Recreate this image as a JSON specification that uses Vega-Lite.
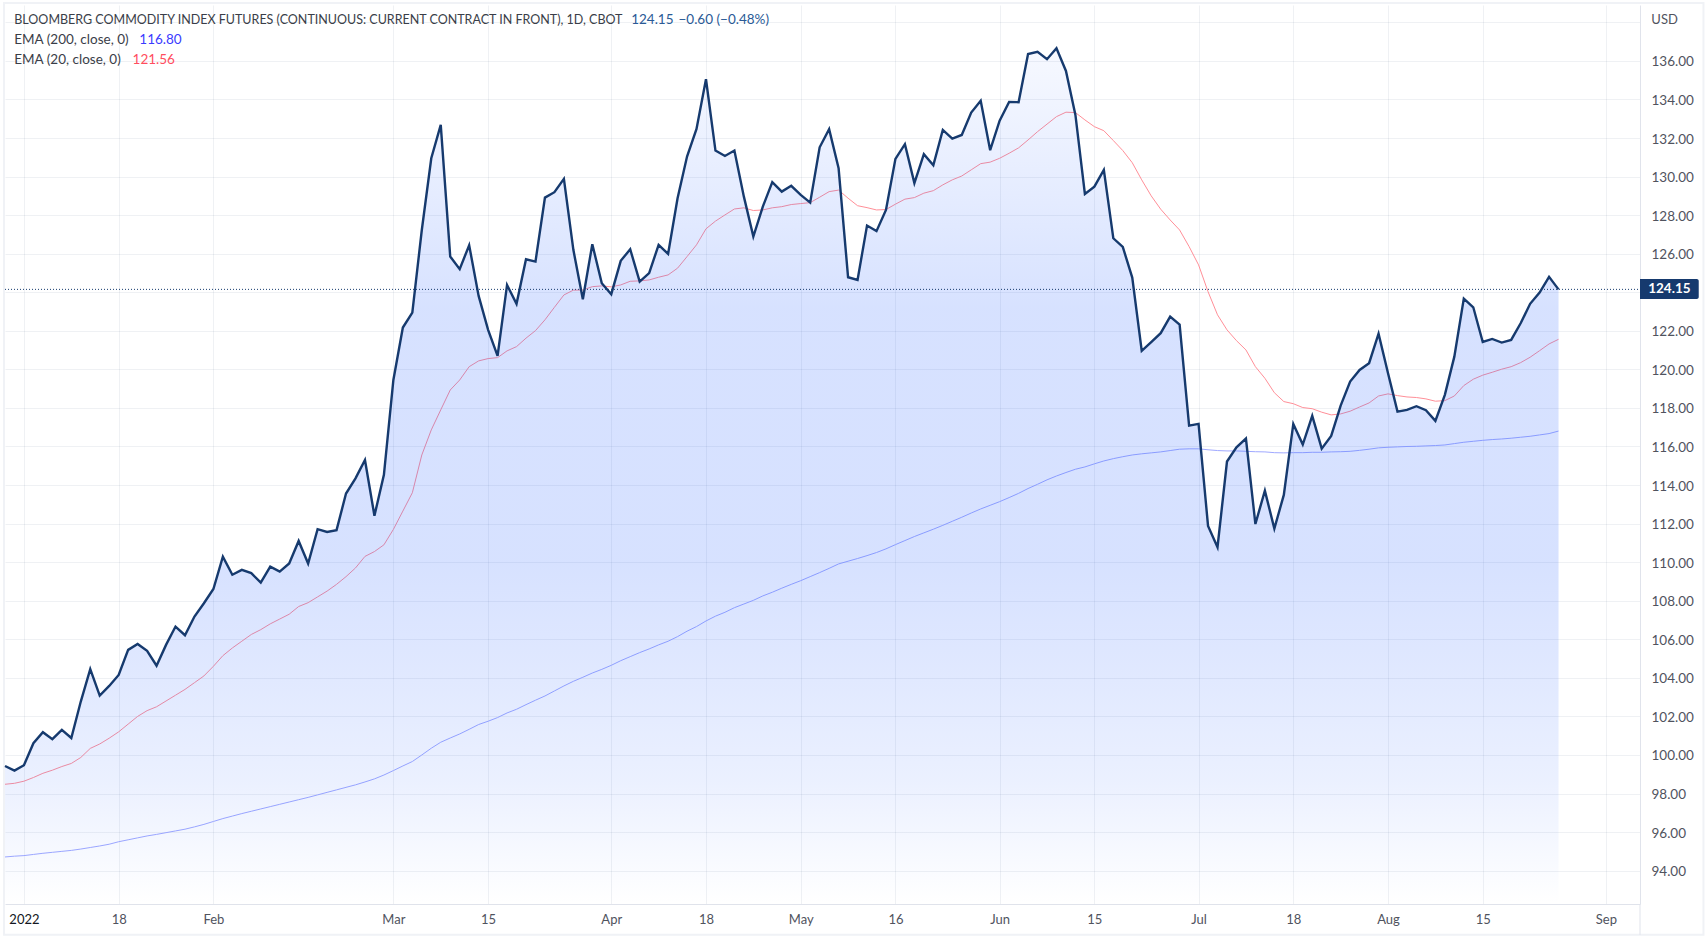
{
  "$schema": "https://vega.github.io/schema/vega-lite/v6.json",
  "width": 1635,
  "height": 899,
  "autosize": {"type": "none"},
  "padding": {"left": 5, "top": 5, "right": 68, "bottom": 38},
  "background": "#ffffff",
  "config": {
    "view": {"stroke": null},
    "text": {"font": "Lato", "fontSize": 13.5}
  },
  "datasets": {
    "bars": [
      {"bar":-2,"date":"2021-12-30","close":99.43,"ema20":98.48,"ema200":94.71},
      {"bar":-1,"date":"2021-12-31","close":99.19,"ema20":98.53,"ema200":94.75},
      {"bar":0,"date":"2022-01-03","close":99.47,"ema20":98.64,"ema200":94.78},
      {"bar":1,"date":"2022-01-04","close":100.61,"ema20":98.83,"ema200":94.84},
      {"bar":2,"date":"2022-01-05","close":101.18,"ema20":99.05,"ema200":94.9},
      {"bar":3,"date":"2022-01-06","close":100.82,"ema20":99.21,"ema200":94.95},
      {"bar":4,"date":"2022-01-07","close":101.3,"ema20":99.4,"ema200":95.0},
      {"bar":5,"date":"2022-01-10","close":100.88,"ema20":99.56,"ema200":95.05},
      {"bar":6,"date":"2022-01-11","close":102.77,"ema20":99.87,"ema200":95.12},
      {"bar":7,"date":"2022-01-12","close":104.45,"ema20":100.34,"ema200":95.2},
      {"bar":8,"date":"2022-01-13","close":103.08,"ema20":100.57,"ema200":95.28},
      {"bar":9,"date":"2022-01-14","close":103.58,"ema20":100.87,"ema200":95.37},
      {"bar":10,"date":"2022-01-18","close":104.15,"ema20":101.2,"ema200":95.5},
      {"bar":11,"date":"2022-01-19","close":105.45,"ema20":101.6,"ema200":95.6},
      {"bar":12,"date":"2022-01-20","close":105.76,"ema20":102.0,"ema200":95.7},
      {"bar":13,"date":"2022-01-21","close":105.4,"ema20":102.3,"ema200":95.8},
      {"bar":14,"date":"2022-01-24","close":104.63,"ema20":102.5,"ema200":95.88},
      {"bar":15,"date":"2022-01-25","close":105.71,"ema20":102.8,"ema200":95.97},
      {"bar":16,"date":"2022-01-26","close":106.66,"ema20":103.1,"ema200":96.06},
      {"bar":17,"date":"2022-01-27","close":106.21,"ema20":103.4,"ema200":96.15},
      {"bar":18,"date":"2022-01-28","close":107.18,"ema20":103.75,"ema200":96.27},
      {"bar":19,"date":"2022-01-31","close":107.87,"ema20":104.1,"ema200":96.4},
      {"bar":20,"date":"2022-02-01","close":108.61,"ema20":104.6,"ema200":96.55},
      {"bar":21,"date":"2022-02-02","close":110.29,"ema20":105.15,"ema200":96.7},
      {"bar":22,"date":"2022-02-03","close":109.35,"ema20":105.55,"ema200":96.83},
      {"bar":23,"date":"2022-02-04","close":109.6,"ema20":105.9,"ema200":96.96},
      {"bar":24,"date":"2022-02-07","close":109.43,"ema20":106.25,"ema200":97.08},
      {"bar":25,"date":"2022-02-08","close":108.94,"ema20":106.5,"ema200":97.2},
      {"bar":26,"date":"2022-02-09","close":109.77,"ema20":106.8,"ema200":97.32},
      {"bar":27,"date":"2022-02-10","close":109.51,"ema20":107.05,"ema200":97.44},
      {"bar":28,"date":"2022-02-11","close":109.93,"ema20":107.3,"ema200":97.56},
      {"bar":29,"date":"2022-02-14","close":111.1,"ema20":107.7,"ema200":97.68},
      {"bar":30,"date":"2022-02-15","close":109.93,"ema20":107.9,"ema200":97.8},
      {"bar":31,"date":"2022-02-16","close":111.71,"ema20":108.2,"ema200":97.93},
      {"bar":32,"date":"2022-02-17","close":111.57,"ema20":108.5,"ema200":98.06},
      {"bar":33,"date":"2022-02-18","close":111.66,"ema20":108.85,"ema200":98.19},
      {"bar":34,"date":"2022-02-22","close":113.56,"ema20":109.25,"ema200":98.32},
      {"bar":35,"date":"2022-02-23","close":114.35,"ema20":109.7,"ema200":98.45},
      {"bar":36,"date":"2022-02-24","close":115.3,"ema20":110.3,"ema200":98.6},
      {"bar":37,"date":"2022-02-25","close":112.41,"ema20":110.55,"ema200":98.76},
      {"bar":38,"date":"2022-02-28","close":114.53,"ema20":110.9,"ema200":98.96},
      {"bar":39,"date":"2022-03-01","close":119.45,"ema20":111.7,"ema200":99.19},
      {"bar":40,"date":"2022-03-02","close":122.17,"ema20":112.65,"ema200":99.43},
      {"bar":41,"date":"2022-03-03","close":122.94,"ema20":113.6,"ema200":99.66},
      {"bar":42,"date":"2022-03-04","close":127.23,"ema20":115.56,"ema200":100.0},
      {"bar":43,"date":"2022-03-07","close":130.95,"ema20":116.86,"ema200":100.35},
      {"bar":44,"date":"2022-03-08","close":132.68,"ema20":117.9,"ema200":100.66},
      {"bar":45,"date":"2022-03-09","close":125.85,"ema20":118.93,"ema200":100.88},
      {"bar":46,"date":"2022-03-10","close":125.2,"ema20":119.45,"ema200":101.09},
      {"bar":47,"date":"2022-03-11","close":126.44,"ema20":120.14,"ema200":101.33},
      {"bar":48,"date":"2022-03-14","close":123.81,"ema20":120.44,"ema200":101.58},
      {"bar":49,"date":"2022-03-15","close":122.05,"ema20":120.56,"ema200":101.75},
      {"bar":50,"date":"2022-03-16","close":120.7,"ema20":120.61,"ema200":101.94},
      {"bar":51,"date":"2022-03-17","close":124.38,"ema20":120.96,"ema200":102.18},
      {"bar":52,"date":"2022-03-18","close":123.4,"ema20":121.18,"ema200":102.37},
      {"bar":53,"date":"2022-03-21","close":125.71,"ema20":121.62,"ema200":102.61},
      {"bar":54,"date":"2022-03-22","close":125.59,"ema20":122.01,"ema200":102.84},
      {"bar":55,"date":"2022-03-23","close":128.91,"ema20":122.57,"ema200":103.06},
      {"bar":56,"date":"2022-03-24","close":129.19,"ema20":123.22,"ema200":103.32},
      {"bar":57,"date":"2022-03-25","close":129.88,"ema20":123.86,"ema200":103.58},
      {"bar":58,"date":"2022-03-28","close":126.2,"ema20":124.11,"ema200":103.82},
      {"bar":59,"date":"2022-03-29","close":123.64,"ema20":124.12,"ema200":104.03},
      {"bar":60,"date":"2022-03-30","close":126.49,"ema20":124.29,"ema200":104.25},
      {"bar":61,"date":"2022-03-31","close":124.47,"ema20":124.33,"ema200":104.44},
      {"bar":62,"date":"2022-04-01","close":123.9,"ema20":124.28,"ema200":104.65},
      {"bar":63,"date":"2022-04-04","close":125.63,"ema20":124.38,"ema200":104.89},
      {"bar":64,"date":"2022-04-05","close":126.23,"ema20":124.57,"ema200":105.1},
      {"bar":65,"date":"2022-04-06","close":124.55,"ema20":124.59,"ema200":105.31},
      {"bar":66,"date":"2022-04-07","close":124.99,"ema20":124.64,"ema200":105.5},
      {"bar":67,"date":"2022-04-08","close":126.46,"ema20":124.78,"ema200":105.71},
      {"bar":68,"date":"2022-04-11","close":125.99,"ema20":124.9,"ema200":105.9},
      {"bar":69,"date":"2022-04-12","close":128.88,"ema20":125.25,"ema200":106.14},
      {"bar":70,"date":"2022-04-13","close":131.04,"ema20":125.85,"ema200":106.42},
      {"bar":71,"date":"2022-04-14","close":132.47,"ema20":126.46,"ema200":106.66},
      {"bar":72,"date":"2022-04-18","close":135.05,"ema20":127.29,"ema200":106.95},
      {"bar":73,"date":"2022-04-19","close":131.35,"ema20":127.69,"ema200":107.2},
      {"bar":74,"date":"2022-04-20","close":131.07,"ema20":128.01,"ema200":107.4},
      {"bar":75,"date":"2022-04-21","close":131.35,"ema20":128.32,"ema200":107.64},
      {"bar":76,"date":"2022-04-22","close":128.96,"ema20":128.38,"ema200":107.83},
      {"bar":77,"date":"2022-04-25","close":126.89,"ema20":128.24,"ema200":108.02},
      {"bar":78,"date":"2022-04-26","close":128.44,"ema20":128.27,"ema200":108.25},
      {"bar":79,"date":"2022-04-27","close":129.71,"ema20":128.38,"ema200":108.44},
      {"bar":80,"date":"2022-04-28","close":129.22,"ema20":128.44,"ema200":108.65},
      {"bar":81,"date":"2022-04-29","close":129.52,"ema20":128.55,"ema200":108.85},
      {"bar":82,"date":"2022-05-02","close":129.05,"ema20":128.6,"ema200":109.04},
      {"bar":83,"date":"2022-05-03","close":128.65,"ema20":128.65,"ema200":109.25},
      {"bar":84,"date":"2022-05-04","close":131.52,"ema20":128.93,"ema200":109.46},
      {"bar":85,"date":"2022-05-05","close":132.46,"ema20":129.22,"ema200":109.68},
      {"bar":86,"date":"2022-05-06","close":130.43,"ema20":129.3,"ema200":109.91},
      {"bar":87,"date":"2022-05-09","close":124.78,"ema20":128.88,"ema200":110.05},
      {"bar":88,"date":"2022-05-10","close":124.64,"ema20":128.49,"ema200":110.19},
      {"bar":89,"date":"2022-05-11","close":127.46,"ema20":128.39,"ema200":110.34},
      {"bar":90,"date":"2022-05-12","close":127.17,"ema20":128.27,"ema200":110.5},
      {"bar":91,"date":"2022-05-13","close":128.27,"ema20":128.29,"ema200":110.69},
      {"bar":92,"date":"2022-05-16","close":130.92,"ema20":128.57,"ema200":110.91},
      {"bar":93,"date":"2022-05-17","close":131.68,"ema20":128.83,"ema200":111.12},
      {"bar":94,"date":"2022-05-18","close":129.66,"ema20":128.91,"ema200":111.33},
      {"bar":95,"date":"2022-05-19","close":131.16,"ema20":129.14,"ema200":111.52},
      {"bar":96,"date":"2022-05-20","close":130.59,"ema20":129.27,"ema200":111.71},
      {"bar":97,"date":"2022-05-23","close":132.42,"ema20":129.57,"ema200":111.91},
      {"bar":98,"date":"2022-05-24","close":131.97,"ema20":129.83,"ema200":112.12},
      {"bar":99,"date":"2022-05-25","close":132.16,"ema20":130.03,"ema200":112.33},
      {"bar":100,"date":"2022-05-26","close":133.32,"ema20":130.35,"ema200":112.55},
      {"bar":101,"date":"2022-05-27","close":133.93,"ema20":130.67,"ema200":112.76},
      {"bar":102,"date":"2022-05-31","close":131.37,"ema20":130.75,"ema200":112.95},
      {"bar":103,"date":"2022-06-01","close":132.9,"ema20":130.95,"ema200":113.14},
      {"bar":104,"date":"2022-06-02","close":133.87,"ema20":131.21,"ema200":113.35},
      {"bar":105,"date":"2022-06-03","close":133.86,"ema20":131.49,"ema200":113.57},
      {"bar":106,"date":"2022-06-06","close":136.36,"ema20":131.9,"ema200":113.82},
      {"bar":107,"date":"2022-06-07","close":136.47,"ema20":132.33,"ema200":114.04},
      {"bar":108,"date":"2022-06-08","close":136.09,"ema20":132.72,"ema200":114.27},
      {"bar":109,"date":"2022-06-09","close":136.66,"ema20":133.11,"ema200":114.47},
      {"bar":110,"date":"2022-06-10","close":135.48,"ema20":133.34,"ema200":114.65},
      {"bar":111,"date":"2022-06-13","close":133.2,"ema20":133.32,"ema200":114.82},
      {"bar":112,"date":"2022-06-14","close":129.1,"ema20":132.94,"ema200":114.94},
      {"bar":113,"date":"2022-06-15","close":129.48,"ema20":132.59,"ema200":115.1},
      {"bar":114,"date":"2022-06-16","close":130.35,"ema20":132.38,"ema200":115.25},
      {"bar":115,"date":"2022-06-17","close":126.8,"ema20":131.87,"ema200":115.37},
      {"bar":116,"date":"2022-06-21","close":126.35,"ema20":131.35,"ema200":115.47},
      {"bar":117,"date":"2022-06-22","close":124.76,"ema20":130.72,"ema200":115.56},
      {"bar":118,"date":"2022-06-23","close":120.96,"ema20":129.83,"ema200":115.62},
      {"bar":119,"date":"2022-06-24","close":121.42,"ema20":129.0,"ema200":115.67},
      {"bar":120,"date":"2022-06-27","close":121.88,"ema20":128.31,"ema200":115.72},
      {"bar":121,"date":"2022-06-28","close":122.74,"ema20":127.75,"ema200":115.79},
      {"bar":122,"date":"2022-06-29","close":122.32,"ema20":127.23,"ema200":115.86},
      {"bar":123,"date":"2022-06-30","close":117.08,"ema20":126.37,"ema200":115.88},
      {"bar":124,"date":"2022-07-01","close":117.17,"ema20":125.42,"ema200":115.88},
      {"bar":125,"date":"2022-07-05","close":111.88,"ema20":124.03,"ema200":115.83},
      {"bar":126,"date":"2022-07-06","close":110.78,"ema20":122.83,"ema200":115.79},
      {"bar":127,"date":"2022-07-07","close":115.22,"ema20":122.05,"ema200":115.77},
      {"bar":128,"date":"2022-07-08","close":115.96,"ema20":121.49,"ema200":115.77},
      {"bar":129,"date":"2022-07-11","close":116.41,"ema20":121.01,"ema200":115.75},
      {"bar":130,"date":"2022-07-12","close":111.98,"ema20":120.14,"ema200":115.73},
      {"bar":131,"date":"2022-07-13","close":113.71,"ema20":119.54,"ema200":115.72},
      {"bar":132,"date":"2022-07-14","close":111.74,"ema20":118.79,"ema200":115.68},
      {"bar":133,"date":"2022-07-15","close":113.49,"ema20":118.33,"ema200":115.67},
      {"bar":134,"date":"2022-07-18","close":117.17,"ema20":118.22,"ema200":115.68},
      {"bar":135,"date":"2022-07-19","close":116.1,"ema20":118.02,"ema200":115.68},
      {"bar":136,"date":"2022-07-20","close":117.59,"ema20":117.96,"ema200":115.7},
      {"bar":137,"date":"2022-07-21","close":115.89,"ema20":117.78,"ema200":115.7},
      {"bar":138,"date":"2022-07-22","close":116.55,"ema20":117.64,"ema200":115.72},
      {"bar":139,"date":"2022-07-25","close":118.12,"ema20":117.69,"ema200":115.73},
      {"bar":140,"date":"2022-07-26","close":119.37,"ema20":117.83,"ema200":115.75},
      {"bar":141,"date":"2022-07-27","close":119.97,"ema20":118.05,"ema200":115.8},
      {"bar":142,"date":"2022-07-28","close":120.32,"ema20":118.26,"ema200":115.86},
      {"bar":143,"date":"2022-07-29","close":121.85,"ema20":118.62,"ema200":115.93},
      {"bar":144,"date":"2022-08-01","close":119.8,"ema20":118.73,"ema200":115.96},
      {"bar":145,"date":"2022-08-02","close":117.81,"ema20":118.64,"ema200":115.98},
      {"bar":146,"date":"2022-08-03","close":117.9,"ema20":118.57,"ema200":116.0},
      {"bar":147,"date":"2022-08-04","close":118.09,"ema20":118.54,"ema200":116.01},
      {"bar":148,"date":"2022-08-05","close":117.88,"ema20":118.47,"ema200":116.03},
      {"bar":149,"date":"2022-08-08","close":117.33,"ema20":118.35,"ema200":116.05},
      {"bar":150,"date":"2022-08-09","close":118.68,"ema20":118.38,"ema200":116.08},
      {"bar":151,"date":"2022-08-10","close":120.66,"ema20":118.62,"ema200":116.15},
      {"bar":152,"date":"2022-08-11","close":123.67,"ema20":119.16,"ema200":116.22},
      {"bar":153,"date":"2022-08-12","close":123.22,"ema20":119.49,"ema200":116.27},
      {"bar":154,"date":"2022-08-15","close":121.42,"ema20":119.7,"ema200":116.32},
      {"bar":155,"date":"2022-08-16","close":121.58,"ema20":119.85,"ema200":116.36},
      {"bar":156,"date":"2022-08-17","close":121.39,"ema20":120.01,"ema200":116.39},
      {"bar":157,"date":"2022-08-18","close":121.53,"ema20":120.14,"ema200":116.43},
      {"bar":158,"date":"2022-08-19","close":122.39,"ema20":120.35,"ema200":116.48},
      {"bar":159,"date":"2022-08-22","close":123.4,"ema20":120.63,"ema200":116.53},
      {"bar":160,"date":"2022-08-23","close":123.98,"ema20":120.97,"ema200":116.6},
      {"bar":161,"date":"2022-08-24","close":124.8,"ema20":121.32,"ema200":116.67},
      {"bar":162,"date":"2022-08-25","close":124.15,"ema20":121.56,"ema200":116.8}
    ]
  },
  "layer": [
    {
      "data": {"values": [{}]},
      "mark": {"type": "rect", "fill": null, "stroke": "#f0f2f6", "strokeWidth": 2},
      "encoding": {
        "x": {
          "datum": -2.1,
          "type": "quantitative",
          "scale": {"domain": [-2, 170.6], "nice": false, "zero": false},
          "title": null,
          "axis": {
            "orient": "bottom",
            "grid": true,
            "values": [0, 10, 20, 39, 49, 62, 72, 82, 92, 103, 113, 124, 134, 144, 154, 167],
            "labelExpr": "{'0':'2022','10':'18','20':'Feb','39':'Mar','49':'15','62':'Apr','72':'18','82':'May','92':'16','103':'Jun','113':'15','124':'Jul','134':'18','144':'Aug','154':'15','167':'Sep'}[datum.value]",
            "labelFont": "Lato",
            "labelFontSize": 13,
            "labelColor": {"condition": {"test": "datum.value == 0", "value": "#131722"}, "value": "#50535e"},
            "labelPadding": 9,
            "labelOverlap": false,
            "labelBound": false,
            "labelFlush": false,
            "tickSize": 0,
            "domainColor": "#e0e3eb",
            "gridColor": "#1e3264",
            "gridOpacity": 0.07
          }
        },
        "x2": {"datum": 177.3},
        "y": {
          "datum": 139,
          "type": "quantitative",
          "scale": {"domain": [92.27, 138.9], "nice": false, "zero": false},
          "title": null,
          "axis": {
            "orient": "right",
            "grid": true,
            "values": [94, 96, 98, 100, 102, 104, 106, 108, 110, 112, 114, 116, 118, 120, 122, 124, 126, 128, 130, 132, 134, 136, 138],
            "labelExpr": "datum.value == 138 || datum.value == 124 ? '' : format(datum.value, '.2f')",
            "labelFont": "Lato",
            "labelFontSize": 13.5,
            "labelColor": "#50535e",
            "labelPadding": 11,
            "labelOffset": 1,
            "labelOverlap": false,
            "labelBound": false,
            "tickSize": 0,
            "domainColor": "#e0e3eb",
            "gridColor": "#1e3264",
            "gridOpacity": 0.07
          }
        },
        "y2": {"datum": 90.67}
      }
    },
    {
      "data": {"values": [{}]},
      "mark": {"type": "rule", "color": "#e0e3eb", "strokeWidth": 1},
      "encoding": {
        "x": {"datum": 170.6, "type": "quantitative", "title": null},
        "y": {"datum": 92.27, "type": "quantitative", "title": null},
        "y2": {"datum": 90.67}
      }
    },
    {
      "data": {"name": "bars"},
      "mark": {"type": "line", "color": "#ff8f98", "strokeWidth": 1},
      "encoding": {
        "x": {"field": "bar", "type": "quantitative", "title": null},
        "y": {"field": "ema20", "type": "quantitative", "title": null}
      }
    },
    {
      "data": {"name": "bars"},
      "mark": {"type": "line", "color": "#a0a9ff", "strokeWidth": 1},
      "encoding": {
        "x": {"field": "bar", "type": "quantitative", "title": null},
        "y": {"field": "ema200", "type": "quantitative", "title": null}
      }
    },
    {
      "data": {"name": "bars"},
      "mark": {
        "type": "area",
        "color": {
          "gradient": "linear",
          "x1": 0, "y1": 0, "x2": 0, "y2": 1,
          "stops": [
            {"offset": 0, "color": "rgba(41,98,255,0.04)"},
            {"offset": 0.154, "color": "rgba(41,98,255,0.115)"},
            {"offset": 0.306, "color": "rgba(41,98,255,0.19)"},
            {"offset": 0.6, "color": "rgba(41,98,255,0.19)"},
            {"offset": 0.715, "color": "rgba(41,98,255,0.15)"},
            {"offset": 0.855, "color": "rgba(41,98,255,0.095)"},
            {"offset": 1, "color": "rgba(41,98,255,0)"}
          ]
        }
      },
      "encoding": {
        "x": {"field": "bar", "type": "quantitative", "title": null},
        "y": {"field": "close", "type": "quantitative", "title": null},
        "y2": {"datum": 92.27}
      }
    },
    {
      "data": {"values": [{}]},
      "mark": {"type": "rule", "color": "#163a6e", "strokeWidth": 1, "strokeDash": [1, 2]},
      "encoding": {
        "x": {"datum": -2, "type": "quantitative", "title": null},
        "x2": {"datum": 170.4},
        "y": {"datum": 124.15, "type": "quantitative", "title": null}
      }
    },
    {
      "data": {"name": "bars"},
      "mark": {"type": "line", "color": "#163a6e", "strokeWidth": 2.4, "strokeJoin": "miter"},
      "encoding": {
        "x": {"field": "bar", "type": "quantitative", "title": null},
        "y": {"field": "close", "type": "quantitative", "title": null}
      }
    },
    {
      "data": {"values": [{}]},
      "mark": {"type": "rect", "color": "#163a6e", "cornerRadiusBottomRight": 2, "cornerRadiusTopRight": 2},
      "encoding": {
        "x": {"datum": 170.6, "type": "quantitative", "title": null},
        "x2": {"datum": 176.8},
        "y": {"datum": 124.69, "type": "quantitative", "title": null},
        "y2": {"datum": 123.65}
      }
    },
    {
      "data": {"name": "bars"},
      "transform": [{"filter": "datum.bar == 162"}],
      "mark": {"type": "text", "color": "#ffffff", "fontWeight": "bold", "align": "center", "baseline": "middle"},
      "encoding": {
        "x": {"datum": 173.7, "type": "quantitative", "title": null},
        "y": {"field": "close", "type": "quantitative", "title": null},
        "text": {"field": "close", "type": "quantitative", "format": ".2f"}
      }
    },
    {
      "data": {"values": [{"label": "USD"}]},
      "mark": {"type": "text", "color": "#50535e", "fontSize": 13, "align": "left", "baseline": "middle"},
      "encoding": {
        "x": {"datum": 171.8, "type": "quantitative", "title": null},
        "y": {"datum": 138.1, "type": "quantitative", "title": null},
        "text": {"field": "label"}
      }
    },
    {
      "data": {"values": [{"label": "BLOOMBERG COMMODITY INDEX FUTURES (CONTINUOUS: CURRENT CONTRACT IN FRONT), 1D, CBOT"}]},
      "mark": {"type": "text", "color": "#3a3e48", "fontSize": 12.5, "align": "left", "baseline": "middle"},
      "encoding": {
        "x": {"datum": -1.02, "type": "quantitative", "title": null},
        "y": {"datum": 138.1, "type": "quantitative", "title": null},
        "text": {"field": "label"}
      }
    },
    {
      "data": {"values": [{"label": "124.15"}]},
      "mark": {"type": "text", "color": "#2a5a96", "align": "left", "baseline": "middle"},
      "encoding": {
        "x": {"datum": 64.1, "type": "quantitative", "title": null},
        "y": {"datum": 138.1, "type": "quantitative", "title": null},
        "text": {"field": "label"}
      }
    },
    {
      "data": {"values": [{"label": "−0.60 (−0.48%)"}]},
      "mark": {"type": "text", "color": "#2a5a96", "align": "left", "baseline": "middle"},
      "encoding": {
        "x": {"datum": 69.1, "type": "quantitative", "title": null},
        "y": {"datum": 138.1, "type": "quantitative", "title": null},
        "text": {"field": "label"}
      }
    },
    {
      "data": {"values": [{"label": "EMA (200, close, 0)"}]},
      "mark": {"type": "text", "color": "#3a3e48", "align": "left", "baseline": "middle"},
      "encoding": {
        "x": {"datum": -1.02, "type": "quantitative", "title": null},
        "y": {"datum": 137.09, "type": "quantitative", "title": null},
        "text": {"field": "label"}
      }
    },
    {
      "data": {"values": [{"label": "116.80"}]},
      "mark": {"type": "text", "color": "#3b3bff", "align": "left", "baseline": "middle"},
      "encoding": {
        "x": {"datum": 12.18, "type": "quantitative", "title": null},
        "y": {"datum": 137.09, "type": "quantitative", "title": null},
        "text": {"field": "label"}
      }
    },
    {
      "data": {"values": [{"label": "EMA (20, close, 0)"}]},
      "mark": {"type": "text", "color": "#3a3e48", "align": "left", "baseline": "middle"},
      "encoding": {
        "x": {"datum": -1.02, "type": "quantitative", "title": null},
        "y": {"datum": 136.05, "type": "quantitative", "title": null},
        "text": {"field": "label"}
      }
    },
    {
      "data": {"values": [{"label": "121.56"}]},
      "mark": {"type": "text", "color": "#ff4d5e", "align": "left", "baseline": "middle"},
      "encoding": {
        "x": {"datum": 11.47, "type": "quantitative", "title": null},
        "y": {"datum": 136.05, "type": "quantitative", "title": null},
        "text": {"field": "label"}
      }
    }
  ]
}
